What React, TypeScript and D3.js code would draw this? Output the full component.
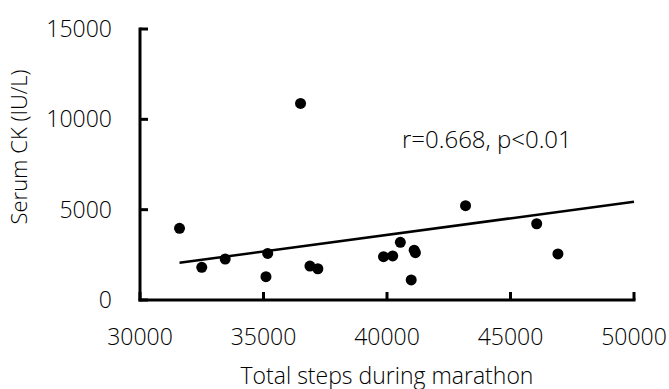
import React from "react";
import * as d3 from "d3";

const steps = [31600, 32500, 33450, 35170, 35100, 36500, 36880, 37200, 39860, 40230, 40540, 40980, 41100, 41150, 43180, 46060, 46920];
const serumCK = [3970, 1810, 2270, 2580, 1290, 10880, 1880, 1730, 2400, 2440, 3190, 1110, 2760, 2620, 5220, 4220, 2550];
const trendSteps = [31600, 50000];
const trendCK = [2060, 5440];
const xTicks = [30000, 35000, 40000, 45000, 50000];
const yTicks = [0, 5000, 10000, 15000];
const xTitle = "Total steps during marathon";
const yTitle = "Serum CK (IU/L)";
const annotation = "r=0.668, p<0.01";

const W = 669;
const H = 389;
const FONT = "'Open Sans', 'Noto Sans', sans-serif";
const TEXT = "#000";

export default function App() {
  const x = d3.scaleLinear().domain([30000, 50000]).range([140, 634]);
  const y = d3.scaleLinear().domain([0, 15000]).range([300, 29]);
  const line = d3
    .line<number>()
    .x((d) => x(trendSteps[d]))
    .y((d) => y(trendCK[d]));

  return (
    <svg
      width={W}
      height={H}
      style={{ position: "absolute", left: 0, top: 0, background: "#fff" }}
      fontFamily={FONT}
    >
      {/* y axis */}
      <line x1={x(30000)} x2={x(30000)} y1={y(15000) - 1.5} y2={y(0) + 1.5} stroke="#000" strokeWidth={3} />
      {yTicks.map((t) => (
        <g key={"y" + t}>
          <line x1={x(30000)} x2={x(30000) + 8} y1={y(t)} y2={y(t)} stroke="#000" strokeWidth={3} />
          <text x={112} y={y(t) + 8} textAnchor="end" fontSize={23} fill={TEXT} fontWeight={300}>
            {t}
          </text>
        </g>
      ))}
      {/* x axis */}
      <line x1={x(30000) - 1.5} x2={x(50000) + 1.5} y1={y(0)} y2={y(0)} stroke="#000" strokeWidth={3} />
      {xTicks.map((t) => (
        <g key={"x" + t}>
          <line x1={x(t)} x2={x(t)} y1={y(0)} y2={y(0) - 8} stroke="#000" strokeWidth={3} />
          <text x={x(t)} y={345} textAnchor="middle" fontSize={23} fill={TEXT} fontWeight={300}>
            {t}
          </text>
        </g>
      ))}
      {/* trend line */}
      <path d={line([0, 1]) || ""} fill="none" stroke="#000" strokeWidth={2.5} />
      {/* points */}
      {steps.map((s, i) => (
        <circle key={i} cx={x(s)} cy={y(serumCK[i])} r={5.5} fill="#000" />
      ))}
      {/* annotation */}
      <text x={402} y={148} fontSize={24} fill={TEXT} fontWeight={300}>
        {annotation}
      </text>
      {/* titles */}
      <text x={387} y={384} textAnchor="middle" fontSize={23} fill={TEXT} fontWeight={300}>
        {xTitle}
      </text>
      <text
        transform={`translate(27,147) rotate(-90)`}
        textAnchor="middle"
        fontSize={22}
        fill={TEXT}
        fontWeight={300}
      >
        {yTitle}
      </text>
    </svg>
  );
}
